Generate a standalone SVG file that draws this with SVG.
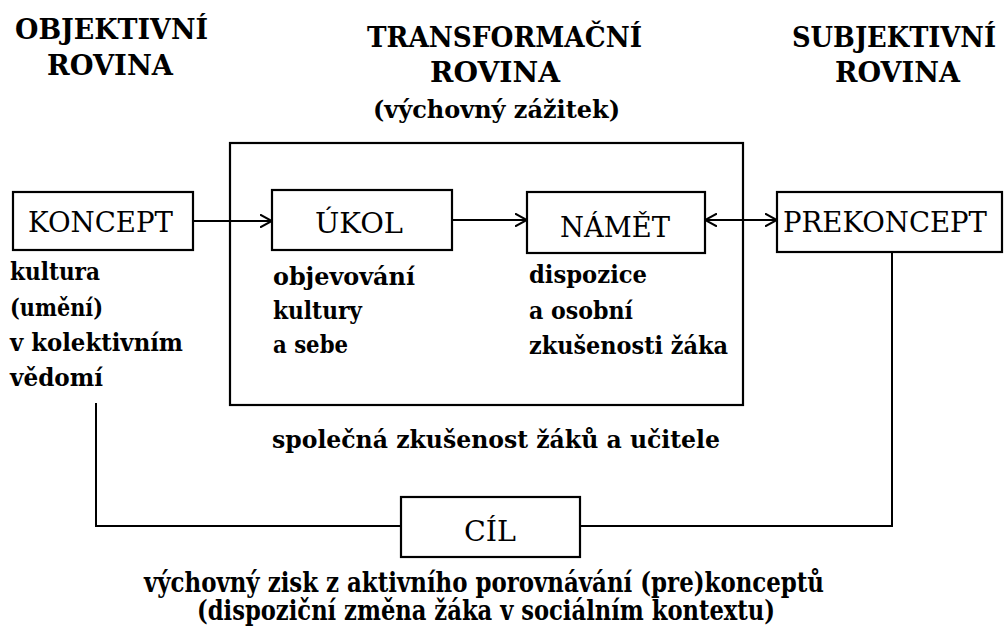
<svg xmlns="http://www.w3.org/2000/svg" width="1004" height="630" viewBox="0 0 1004 630">
<defs>
<marker id="arr" viewBox="0 0 13 14" refX="12" refY="7" markerWidth="13" markerHeight="14" markerUnits="userSpaceOnUse" orient="auto-start-reverse"><path d="M0,0.5 L12,7 L0,13.5" fill="none" stroke="#000" stroke-width="2"/></marker>
</defs>
<style>
.box{fill:#fff;stroke:#000;stroke-width:2.2}
.hd{font-family:"DejaVu Serif","Liberation Serif",serif;font-weight:bold;font-size:27px;fill:#000}
.lb{font-family:"DejaVu Serif","Liberation Serif",serif;font-size:27px;fill:#000}
.tx{font-family:"DejaVu Serif","Liberation Serif",serif;font-weight:bold;font-size:24px;fill:#000}
.bt{font-family:"DejaVu Serif","Liberation Serif",serif;font-weight:bold;font-size:27px;fill:#000}
.ln{fill:none;stroke:#000;stroke-width:2}
</style>
<rect width="1004" height="630" fill="#fff"/>
<g id="headers">
<text class="hd" x="15" y="39" textLength="193" lengthAdjust="spacingAndGlyphs">OBJEKTIVNÍ</text>
<text class="hd" x="47" y="75" textLength="126" lengthAdjust="spacingAndGlyphs">ROVINA</text>
<text class="hd" x="367" y="47" textLength="275" lengthAdjust="spacingAndGlyphs">TRANSFORMAČNÍ</text>
<text class="hd" x="430" y="82" textLength="130" lengthAdjust="spacingAndGlyphs">ROVINA</text>
<text class="tx" x="373" y="118" textLength="247" lengthAdjust="spacingAndGlyphs" style="font-size:25px">(výchovný zážitek)</text>
<text class="hd" x="792" y="47" textLength="204" lengthAdjust="spacingAndGlyphs">SUBJEKTIVNÍ</text>
<text class="hd" x="835" y="82" textLength="125" lengthAdjust="spacingAndGlyphs">ROVINA</text>
</g>
<g id="transformace">
<rect class="box" x="230" y="143" width="513" height="262" style="fill:none"/>
<text class="tx" x="272" y="448" textLength="448" lengthAdjust="spacingAndGlyphs">společná zkušenost žáků a učitele</text>
</g>
<g id="connectors">
<line class="ln" x1="193" y1="221" x2="272" y2="221" marker-end="url(#arr)"/>
<line class="ln" x1="452" y1="220" x2="527" y2="220" marker-end="url(#arr)"/>
<line class="ln" x1="705" y1="220" x2="777" y2="220" marker-start="url(#arr)" marker-end="url(#arr)"/>
<polyline class="ln" points="96,403 96,526 401,526"/>
<polyline class="ln" points="580,526 892,526 892,252"/>
</g>
<g id="koncept">
<rect class="box" x="13" y="192" width="180" height="58"/>
<text class="lb" x="28" y="232" textLength="145" lengthAdjust="spacingAndGlyphs">KONCEPT</text>
<text class="tx" x="10" y="280" textLength="90" lengthAdjust="spacingAndGlyphs">kultura</text>
<text class="tx" x="10" y="316" textLength="93" lengthAdjust="spacingAndGlyphs">(umění)</text>
<text class="tx" x="10" y="351" textLength="173" lengthAdjust="spacingAndGlyphs">v kolektivním</text>
<text class="tx" x="10" y="386" textLength="93" lengthAdjust="spacingAndGlyphs">vědomí</text>
</g>
<g id="ukol">
<rect class="box" x="272" y="190" width="180" height="60"/>
<text class="lb" x="315" y="233" textLength="88" lengthAdjust="spacingAndGlyphs">ÚKOL</text>
<text class="tx" x="273" y="285" textLength="142" lengthAdjust="spacingAndGlyphs">objevování</text>
<text class="tx" x="273" y="319" textLength="89" lengthAdjust="spacingAndGlyphs">kultury</text>
<text class="tx" x="273" y="353" textLength="75" lengthAdjust="spacingAndGlyphs">a sebe</text>
</g>
<g id="namet">
<rect class="box" x="527" y="192" width="178" height="61"/>
<text class="lb" x="560" y="237" textLength="110" lengthAdjust="spacingAndGlyphs">NÁMĚT</text>
<text class="tx" x="529" y="283" textLength="118" lengthAdjust="spacingAndGlyphs">dispozice</text>
<text class="tx" x="529" y="319" textLength="104" lengthAdjust="spacingAndGlyphs">a osobní</text>
<text class="tx" x="529" y="354" textLength="199" lengthAdjust="spacingAndGlyphs">zkušenosti žáka</text>
</g>
<g id="prekoncept">
<rect class="box" x="777" y="192" width="225" height="60"/>
<text class="lb" x="783" y="232" textLength="204" lengthAdjust="spacingAndGlyphs">PREKONCEPT</text>
</g>
<g id="cil">
<rect class="box" x="401" y="497" width="179" height="60"/>
<text class="lb" x="464" y="541" textLength="52" lengthAdjust="spacingAndGlyphs">CÍL</text>
<text class="bt" x="144" y="592" textLength="680" lengthAdjust="spacingAndGlyphs">výchovný zisk z aktivního porovnávání (pre)konceptů</text>
<text class="bt" x="197" y="620" textLength="578" lengthAdjust="spacingAndGlyphs">(dispoziční změna žáka v sociálním kontextu)</text>
</g>
</svg>
